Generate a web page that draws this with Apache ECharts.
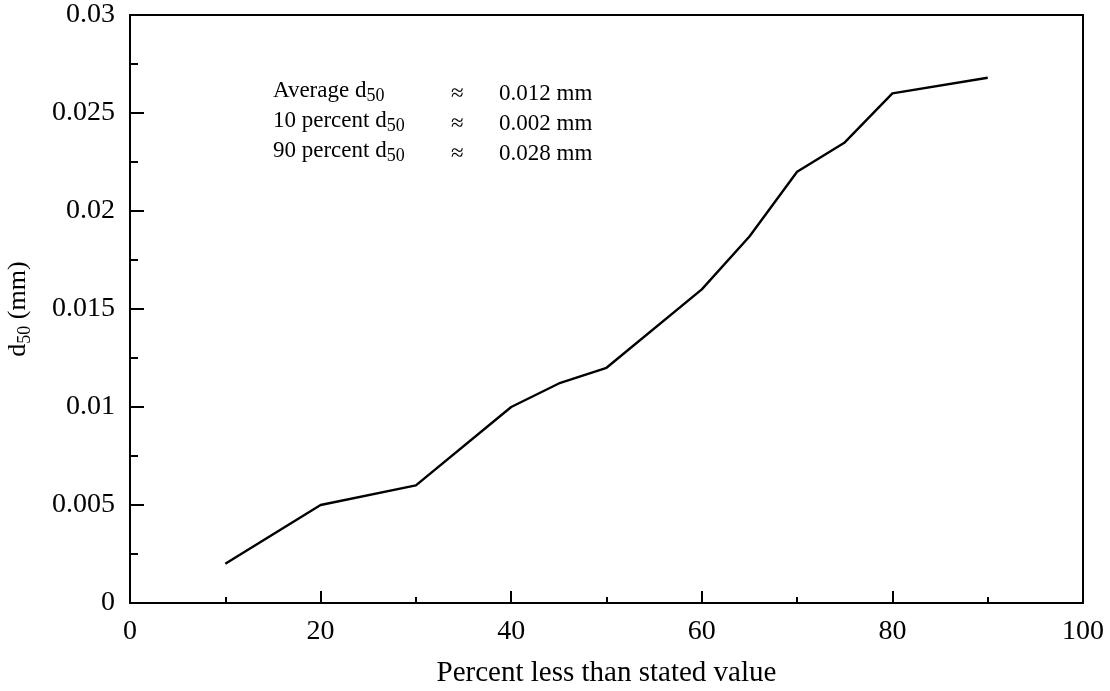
<!DOCTYPE html>
<html>
<head>
<meta charset="utf-8">
<script src="https://cdn.jsdelivr.net/npm/echarts@6/dist/echarts.min.js"></script>
<style>
  html, body { margin: 0; padding: 0; background: #fff; }
  #chart { width: 1110px; height: 691px; }
</style>
</head>
<body>
<div id="chart"></div>
<script>
// Cumulative distribution of d50 grain size
const percentLess = [10, 20, 30, 40, 45, 50, 60, 65, 70, 75, 80, 90];
const d50Values = [0.002, 0.005, 0.006, 0.010, 0.0112, 0.012, 0.016, 0.0187, 0.022, 0.0235, 0.026, 0.0268];

// Axis tick settings
const xTicks = { min: 0, max: 100, interval: 20 };
const yTicks = { min: 0, max: 0.03, interval: 0.005 };

// Summary statistics shown inside the plot
const statNames = ['Average', '10 percent', '90 percent'];
const statValues = ['0.012 mm', '0.002 mm', '0.028 mm'];

const FONT = '"Liberation Serif", "Times New Roman", serif';

const chart = echarts.init(document.getElementById('chart'), null, { renderer: 'canvas' });

const statRows = statNames.map(function (name, i) {
  return {
    type: 'group',
    left: 273,
    top: 79 + i * 30,
    children: [
      {
        type: 'text',
        left: 0, top: 0,
        style: {
          text: '{m|' + name + ' d}{s|50}',
          rich: {
            m: { fontFamily: FONT, fontSize: 23, lineHeight: 30, fill: '#000' },
            s: { fontFamily: FONT, fontSize: 18, lineHeight: 22, verticalAlign: 'bottom', fill: '#000' }
          }
        }
      },
      {
        type: 'text',
        left: 178, top: 3,
        style: { text: '\u2248', fontFamily: FONT, fontSize: 23, fill: '#000' }
      },
      {
        type: 'text',
        left: 226, top: 3,
        style: { text: statValues[i], fontFamily: FONT, fontSize: 23, fill: '#000' }
      }
    ]
  };
});

chart.setOption({
  backgroundColor: '#fff',
  animation: false,
  grid: {
    left: 130, right: 27, top: 15, bottom: 88,
    containLabel: false,
    outerBoundsMode: 'none',
    show: true, borderColor: '#000', borderWidth: 2, backgroundColor: 'transparent'
  },
  xAxis: {
    type: 'value',
    min: xTicks.min, max: xTicks.max, interval: xTicks.interval,
    name: 'Percent less than stated value',
    nameLocation: 'middle',
    nameGap: 56,
    nameTextStyle: { fontFamily: FONT, fontSize: 29, color: '#000' },
    axisLine: { show: true, lineStyle: { color: '#000', width: 2 } },
    axisTick: { show: true, inside: true, length: 12, lineStyle: { color: '#000', width: 2 } },
    minorTick: { show: true, splitNumber: 2, length: 6, lineStyle: { color: '#000', width: 2 } },
    splitLine: { show: false },
    axisLabel: { fontFamily: FONT, fontSize: 28, color: '#000', margin: 15 }
  },
  yAxis: {
    type: 'value',
    min: yTicks.min, max: yTicks.max, interval: yTicks.interval,
    name: '{m|d}{s|50}{m| (mm)}',
    nameLocation: 'middle',
    nameRotate: 90,
    nameGap: 96,
    nameTextStyle: {
      fontFamily: FONT, color: '#000',
      rich: {
        m: { fontFamily: FONT, fontSize: 26, lineHeight: 32, color: '#000' },
        s: { fontFamily: FONT, fontSize: 18, lineHeight: 24, verticalAlign: 'bottom', color: '#000' }
      }
    },
    axisLine: { show: true, lineStyle: { color: '#000', width: 2 } },
    axisTick: { show: true, inside: true, length: 14, lineStyle: { color: '#000', width: 2 } },
    minorTick: { show: true, splitNumber: 2, length: 8, lineStyle: { color: '#000', width: 2 } },
    splitLine: { show: false },
    axisLabel: {
      fontFamily: FONT, fontSize: 28, color: '#000', margin: 15,
      formatter: function (v) { return String(+v.toFixed(4)); }
    }
  },
  series: [{
    type: 'line',
    data: percentLess.map(function (p, i) { return [p, d50Values[i]]; }),
    showSymbol: false,
    symbol: 'none',
    lineStyle: { color: '#000', width: 2.4 },
    silent: true
  }],
  graphic: statRows
});
</script>
</body>
</html>
